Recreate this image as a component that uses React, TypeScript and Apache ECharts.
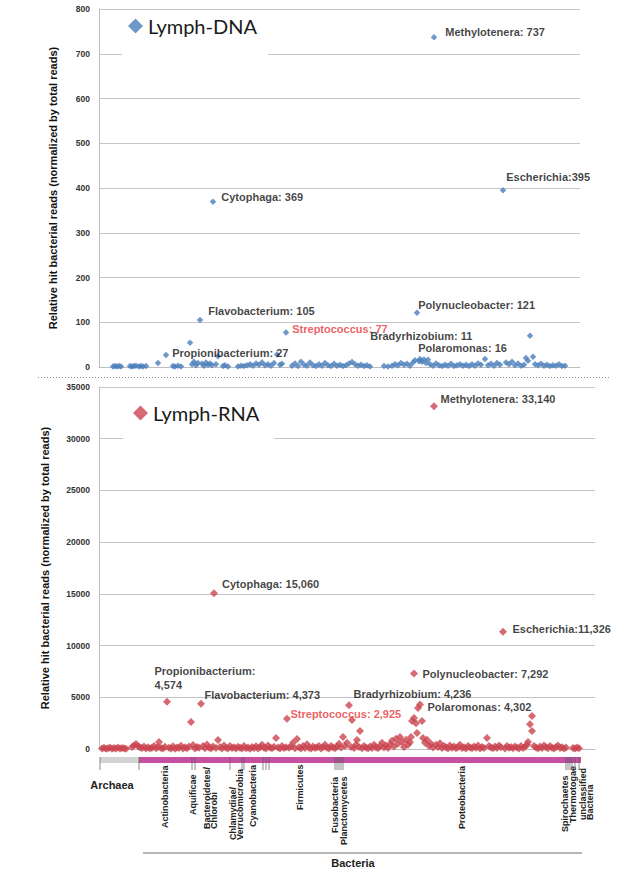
import React, { useEffect, useRef } from 'react';
import * as echarts from 'echarts';

// ---------------- DATA ----------------
// Lymph-DNA: taxon rank position along x, relative hit reads
const dnaRank = [14,16,18,20,22, 31,33,35,37,40,42,44,47, 59, 67, 74,76,79,82, 91, 93,95,97,99,101,103,105,107,109,111,113, 114, 117,119, 124,126,129, 139,142,145,148,151,154,157,160,163,166,169,172,175,178,181,183, 187, 193,196,199,202,205,208,211,214,217,220,223,226,229,232,235,238,241,244, 247,250,253,256,259,262,265,268,271, 285,289, 293,296,299,302,305,308,311, 314,316,318,320,321,323,325,327,329, 331,334,335,337,340,343,346,349,352,355,358,361,364,367,370, 373,376,379,382,386,389,392,395, 398,401,404,407,410,413,416,419, 422,425,427,429,431,434,436, 439,442,445,448,451,454,457,460,463,466];
const dnaReads = [1,2,1,2,1, 2,1,2,3,1,2,1,2, 9, 27, 2,1,3,1, 54, 6,12,4,9,105,7,3,10,5,8,4, 369, 6,24, 2,4,1, 1,3,2,4,6,3,8,5,10,4,6,3,9,28,5,7, 77, 3,8,2,12,5,3,10,4,2,6,3,9,4,2,7,3,5,2, 4,8,11,6,3,5,2,4,1, 2,1, 3,6,4,9,5,7,3, 10,15,121,13,18,12,17,9,16, 6,3,737,8,4,2,5,3,7,2,4,6,3,5,2, 6,3,8,5,18,4,7,3, 9,5,395,10,6,12,4,8, 3,5,20,14,70,23,6, 4,7,3,5,2,4,3,6,2,3];

// Lymph-RNA
const rnaRank = [3,5,7,9,11,13,15,17,19,21,23,25,27,
33,35,37,39,41,43,45,47,49,51,
53,55,57,59,60,62,64,66,68,70,
72,74,76,78,80,82,84,86,88,90,
92,94,96,98,100,102,104,106,108,110,
112,114,115,117,119,121,123,125,127,129,
131,133,135,137,139,141,143,145,147,149,
151,153,155,157,159,161,163,165,167,169,
171,173,175,177,179,181,183,185,187,188,
190,192,194,196,198,200,202,204,206,208,
210,212,214,216,218,220,222,224,226,228,
230,232,234,236,238,240,242,244,246,248,
250,252,253,255,257,258,260,261,263,265,
267,269,271,273,275,277,279,281,283,285,
287,289,291,293,295,297,299,301,303,305,
307,309,311,312,313,315,315,317,318,319,
321,323,324,326,328,330,332,334,335,337,
339,341,343,345,347,349,351,353,355,357,
359,361,363,365,367,369,371,373,375,377,
379,381,383,385,388,390,392,394,396,398,
400,402,404,406,408,410,412,414,416,418,
420,422,424,426,428,429,431,433,433,435,
437,439,441,443,445,447,449,451,453,455,
457,459,461,463,465,467,
474,476,478,480];
const rnaReads = [50,120,30,80,150,20,90,60,140,40,100,70,30,
200,350,480,300,150,90,250,60,180,40,
120,300,80,200,680,100,40,220,4574,120,
60,260,30,150,90,310,50,180,70,240,
2600,380,60,200,110,4373,300,80,440,150,
60,250,15060,100,870,200,50,330,120,60,
280,90,180,40,220,120,60,300,80,150,
30,200,90,260,50,180,400,120,60,350,
150,80,220,1060,140,60,300,90,180,2925,
120,250,600,80,970,160,60,280,100,450,
120,50,230,90,180,300,60,200,400,120,
60,300,180,80,250,500,150,1160,300,600,
4236,200,2800,100,400,870,200,1740,80,300,
150,60,250,100,400,180,80,300,600,150,
350,100,450,800,250,1000,500,1160,700,200,
900,400,650,1160,2700,3000,7292,2500,1550,3960,
4302,2700,1060,600,900,300,500,150,33140,400,
200,550,100,300,180,60,350,120,250,80,
200,400,100,180,60,300,150,80,250,120,
350,60,200,100,1060,300,150,80,250,100,
350,180,11326,60,300,120,200,80,250,150,
60,300,100,220,400,680,2400,3190,1740,300,
150,60,250,100,350,180,80,300,120,60,
200,350,100,180,60,150,
100,60,150,80];

// annotated genera
const dnaNoteRank = [67, 101, 114, 187, 253, 318, 329, 335, 404];
const dnaNoteValue = [27, 105, 369, 77, 11, 121, 16, 737, 395];
const dnaNoteText = ['Propionibacterium: 27', 'Flavobacterium: 105', 'Cytophaga: 369', 'Streptococcus: 77', 'Bradyrhizobium: 11', 'Polynucleobacter: 121', 'Polaromonas: 16', 'Methylotenera: 737', 'Escherichia:395'];
const rnaNoteRank = [68, 102, 115, 188, 250, 315, 321, 335, 404];
const rnaNoteValue = [4574, 4373, 15060, 2925, 4236, 7292, 4302, 33140, 11326];
const rnaNoteText = ['Propionibacterium:\n4,574', 'Flavobacterium: 4,373', 'Cytophaga: 15,060', 'Streptococcus: 2,925', 'Bradyrhizobium: 4,236', 'Polynucleobacter: 7,292', 'Polaromonas: 4,302', 'Methylotenera: 33,140', 'Escherichia:11,326'];

const dnaAxisTicks = [0, 800, 100];   // min, max, step
const rnaAxisTicks = [0, 35000, 5000];

// taxonomy strip
const domainNames = ['Archaea', 'Bacteria'];
const domainStart = [1, 40];
const domainEnd = [40, 482];
const domainLabelAt = [13, 254];
const bracketStart = [null, 44];
const bracketEnd = [null, 483];
const phylumBoundaries = [1, 40, 93, 96, 131, 143, 145, 164, 167, 170, 236, 238, 240, 242, 244, 467, 469, 471, 473, 476, 480];
const phylumNames = ['Actinobacteria', 'Aquificae', 'Bacteroidetes/\nChlorobi', 'Chlamydiae/\nVerrucomicrobia', 'Cyanobacteria', 'Firmicutes', 'Fusobacteria', 'Planctomycetes', 'Proteobacteria', 'Spirochaetes', 'Thermotogae', 'unclassified\nBacteria'];
const phylumAt = [66, 94, 111.5, 137, 154, 201, 236, 245, 363, 466, 474, 487.5];

// ---------------- LAYOUT / STYLE ----------------
const FONT = '"Liberation Sans", Arial, Helvetica, sans-serif';
const BLUE = '#4A7EBB';
const RED = '#CB4550';
const STREP = '#E8363A';
const dnaNoteOffset = [[-2, -2], [0, -9], [0, -5], [-2, -4], [10, -26], [-7, -8], [-18, -12], [3, -5], [-5, -13]];
const rnaNoteOffset = [[-21.5, -24], [-5.5, -9], [-1, -9], [-5.5, -5], [-4.5, -11], [-0.5, 0], [-1.5, 2], [-2.5, -7], [0.5, -3]];
const phylumDrop = [65, 52, 66, 77, 64, 47, 70, 82, 66, 69, 60, 57];
const domainDrop = [22, 100];
const domainColor = ['#d3d3d3', '#C64FA2'];

function buildPoints(ranks: number[], reads: number[], nr: number[], nv: number[], nt: string[], no: number[][]) {
  return ranks.map((r, i) => {
    const k = nr.findIndex((x, j) => x === r && nv[j] === reads[i]);
    if (k < 0) return [r, reads[i]];
    const isStrep = nt[k].indexOf('Streptococcus') === 0;
    return {
      value: [r, reads[i]],
      label: {
        show: true,
        position: 'right',
        distance: 5,
        offset: no[k],
        formatter: nt[k],
        color: isStrep ? STREP : '#111',
        fontSize: 11,
        fontWeight: 'bold',
        fontFamily: FONT,
        lineHeight: 14,
      },
    };
  });
}

function yAxisCfg(grid: number, t: number[], gap: number) {
  return {
    gridIndex: grid,
    type: 'value',
    min: t[0],
    max: t[1],
    interval: t[2],
    axisLine: { show: true, lineStyle: { color: '#bdbdbd', width: 1 } },
    axisTick: { show: false },
    axisLabel: { fontSize: 8.5, fontWeight: 'bold', color: '#333', fontFamily: FONT, margin: 9, formatter: (v: number) => String(v) },
    splitLine: { show: true, lineStyle: { color: '#c4c4c4', width: 1 } },
    name: 'Relative hit bacterial reads (normalized by total reads)',
    nameLocation: 'middle',
    nameGap: gap,
    nameTextStyle: { fontSize: 11, fontWeight: 'bold', color: '#111', fontFamily: FONT },
  };
}

function xAxisCfg(grid: number, max: number) {
  return {
    gridIndex: grid,
    type: 'value',
    min: 0,
    max,
    axisLine: { show: true, onZero: false, lineStyle: { color: '#bdbdbd', width: 1 } },
    axisTick: { show: false },
    axisLabel: { show: false },
    splitLine: { show: false },
  };
}

function buildOption() {
  return {
    animation: false,
    backgroundColor: '#fff',
    grid: [
      { left: 99, top: 9, width: 481, height: 358 },
      { left: 99, top: 387, width: 496, height: 362 },
      { left: 99, top: 757, width: 496, height: 6 },
    ],
    xAxis: [
      xAxisCfg(0, 481),
      xAxisCfg(1, 496),
      { gridIndex: 2, type: 'value', min: 0, max: 496, show: false },
    ],
    yAxis: [
      yAxisCfg(0, dnaAxisTicks, 41),
      yAxisCfg(1, rnaAxisTicks, 49),
      { gridIndex: 2, type: 'value', min: 0, max: 1, show: false },
    ],
    legend: [
      {
        data: ['Lymph-DNA'], left: 122, top: 10, icon: 'diamond', itemWidth: 15, itemHeight: 15,
        padding: [4, 11, 17, 6], backgroundColor: '#fff', selectedMode: false,
        textStyle: { fontSize: 20, fontFamily: 'Lato, "Open Sans", sans-serif', color: '#1a1a1a', lineHeight: 24 },
      },
      {
        data: ['Lymph-RNA'], left: 123, top: 389, icon: 'diamond', itemWidth: 15, itemHeight: 15,
        padding: [12, 15, 16, 10], backgroundColor: '#fff', selectedMode: false,
        textStyle: { fontSize: 20, fontFamily: 'Lato, "Open Sans", sans-serif', color: '#1a1a1a', lineHeight: 24 },
      },
    ],
    graphic: [
      { type: 'line', shape: { x1: 38, y1: 377.5, x2: 610, y2: 377.5 }, style: { stroke: '#8a8a8a', lineWidth: 1, lineDash: [1, 2] } },
    ],
    series: [
      {
        name: 'Lymph-DNA', type: 'scatter', xAxisIndex: 0, yAxisIndex: 0,
        symbol: 'diamond', symbolSize: 6.5, itemStyle: { color: BLUE },
        data: buildPoints(dnaRank, dnaReads, dnaNoteRank, dnaNoteValue, dnaNoteText, dnaNoteOffset),
        z: 3,
      },
      {
        name: 'Lymph-RNA', type: 'scatter', xAxisIndex: 1, yAxisIndex: 1,
        symbol: 'diamond', symbolSize: 8, itemStyle: { color: RED },
        data: buildPoints(rnaRank, rnaReads, rnaNoteRank, rnaNoteValue, rnaNoteText, rnaNoteOffset),
        z: 3,
      },
      {
        name: 'domains', type: 'custom', xAxisIndex: 2, yAxisIndex: 2, clip: false,
        data: domainStart.map((s, i) => [s, domainEnd[i], i]),
        renderItem: (params: any, api: any) => {
          const i = api.value(2);
          const a = api.coord([api.value(0), 1]);
          const b = api.coord([api.value(1), 0]);
          const lab = api.coord([domainLabelAt[i], 0]);
          const children: any[] = [
            { type: 'rect', shape: { x: a[0], y: a[1], width: b[0] - a[0], height: b[1] - a[1] }, style: { fill: domainColor[i] } },
            {
              type: 'text', x: lab[0], y: b[1] + domainDrop[i],
              style: { text: domainNames[i], fontSize: 11, fontWeight: 'bold', fontFamily: FONT, fill: '#222', align: 'center', verticalAlign: 'middle' },
            },
          ];
          if (bracketStart[i] != null) {
            const s = api.coord([bracketStart[i], 0]);
            const e = api.coord([bracketEnd[i], 0]);
            children.push({ type: 'line', shape: { x1: s[0], y1: b[1] + 90, x2: e[0], y2: b[1] + 90 }, style: { stroke: '#b5b5b5', lineWidth: 2 } });
          }
          return { type: 'group', children };
        },
      },
      {
        name: 'phylumTicks', type: 'custom', xAxisIndex: 2, yAxisIndex: 2, clip: false,
        data: phylumBoundaries.map((b) => [b]),
        renderItem: (params: any, api: any) => {
          const p = api.coord([api.value(0), 1]);
          return { type: 'line', shape: { x1: p[0], y1: p[1], x2: p[0], y2: p[1] + 13 }, style: { stroke: '#5a5a5a', lineWidth: 0.7 } };
        },
        z: 4,
      },
      {
        name: 'phylumLabels', type: 'custom', xAxisIndex: 2, yAxisIndex: 2, clip: false,
        data: phylumAt.map((x, i) => [x, i]),
        renderItem: (params: any, api: any) => {
          const i = api.value(1);
          const p = api.coord([api.value(0), 0]);
          return {
            type: 'text', x: p[0], y: p[1] + phylumDrop[i], rotation: Math.PI / 2,
            style: { text: phylumNames[i], fontSize: 9, fontWeight: 'bold', fontFamily: FONT, fill: '#222', align: 'left', verticalAlign: 'middle', lineHeight: 7 },
          };
        },
      },
    ],
  };
}

export default function App() {
  const ref = useRef<HTMLDivElement>(null);
  useEffect(() => {
    const chart = echarts.init(ref.current as HTMLDivElement, undefined, { renderer: 'svg' });
    chart.setOption(buildOption() as any);
    return () => chart.dispose();
  }, []);
  return <div ref={ref} style={{ position: 'fixed', left: 0, top: 0, width: 640, height: 872, background: '#fff' }} />;
}
